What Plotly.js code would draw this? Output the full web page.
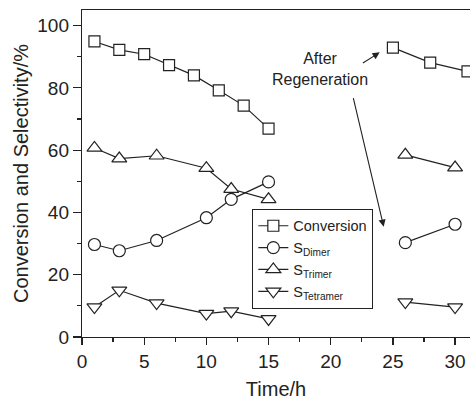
<!DOCTYPE html>
<html>
<head>
<meta charset="utf-8">
<script src="https://cdn.plot.ly/plotly-3.0.1.min.js"></script>
<style>html,body{margin:0;padding:0;background:#fff;}#chart{width:470px;height:400px;}</style>
</head>
<body>
<div id="chart"></div>
<script>
// Time (h); null entries break the line between the two runs
var convX = [1, 3, 5, 7, 9, 11, 13, 15, 20, 25, 28, 31];
var convY = [94.9, 92.2, 90.8, 87.3, 84.0, 79.2, 74.3, 66.9, null, 92.9, 88.1, 85.3];
var selX = [1, 3, 6, 10, 12, 15, 20, 26, 30];
var dimerY = [29.7, 27.7, 31.0, 38.3, 44.2, 49.8, null, 30.3, 36.2];
var trimerY = [60.7, 57.3, 58.2, 54.2, 47.5, 44.2, null, 58.5, 54.4];
var tetramerY = [9.6, 15.0, 10.9, 7.5, 8.3, 5.8, null, 11.2, 9.6];
var seriesNames = ['Conversion', 'S<sub>Dimer</sub>', 'S<sub>Trimer</sub>', 'S<sub>Tetramer</sub>'];
var annotText = 'After<br>Regeneration';

var ink = '#222';
function tr(x, y, name, sym, size) {
  return {
    x: x, y: y, name: name, type: 'scatter', mode: 'lines+markers',
    line: {color: ink, width: 1.2},
    marker: {symbol: sym, size: size, color: '#fff', line: {color: ink, width: 1.2}},
    connectgaps: false, cliponaxis: false
  };
}
var data = [
  tr(convX, convY, seriesNames[0], 'square', 11),
  tr(selX, dimerY, seriesNames[1], 'circle', 12),
  tr(selX, trimerY, seriesNames[2], 'triangle-up', 13),
  tr(selX, tetramerY, seriesNames[3], 'triangle-down', 13)
];

var font = 'Liberation Sans, Arial, sans-serif';
var layout = {
  width: 470, height: 400,
  margin: {l: 82, r: 0, t: 10, b: 63},
  paper_bgcolor: '#fff', plot_bgcolor: '#fff',
  font: {family: font, color: ink},
  showlegend: true,
  legend: {
    x: 0.439, y: 0.392, xanchor: 'left', yanchor: 'top',
    bgcolor: '#fff', bordercolor: ink, borderwidth: 1,
    font: {family: font, size: 14.5, color: ink},
    tracegroupgap: 0, itemwidth: 30
  },
  xaxis: {
    range: [0, 31.2], dtick: 5, tick0: 0,
    showline: true, linecolor: ink, linewidth: 1.2, mirror: true,
    ticks: 'outside', ticklen: 7, tickwidth: 1.2, tickcolor: ink,
    minor: {dtick: 2.5, ticks: 'outside', ticklen: 4, tickwidth: 1.2, tickcolor: ink, showgrid: false},
    showgrid: false, zeroline: false,
    tickfont: {family: font, size: 19, color: ink},
    title: {text: 'Time/h', font: {family: font, size: 20, color: ink}, standoff: 21}
  },
  yaxis: {
    range: [0, 105], dtick: 20, tick0: 0,
    showline: true, linecolor: ink, linewidth: 1.2, mirror: false,
    ticks: 'outside', ticklen: 8, tickwidth: 1.2, tickcolor: ink,
    minor: {dtick: 10, ticks: 'outside', ticklen: 4, tickwidth: 1.2, tickcolor: ink, showgrid: false},
    showgrid: false, zeroline: false,
    tickfont: {family: font, size: 19, color: ink},
    title: {text: 'Conversion and Selectivity/%', font: {family: font, size: 20, color: ink}, standoff: 3}
  },
  annotations: [
    {x: 19.1, y: 86.1, xref: 'x', yref: 'y', text: annotText, showarrow: false,
     font: {family: font, size: 16, color: ink}, align: 'center'},
    {x: 23.94, y: 91.4, ax: 22.47, ay: 87.7, xref: 'x', yref: 'y', axref: 'x', ayref: 'y',
     text: '', showarrow: true, arrowhead: 2, arrowsize: 1.3, arrowwidth: 1.1, arrowcolor: ink, standoff: 0, startstandoff: 0},
    {x: 24.26, y: 35.4, ax: 21.79, ay: 77.2, xref: 'x', yref: 'y', axref: 'x', ayref: 'y',
     text: '', showarrow: true, arrowhead: 2, arrowsize: 1.3, arrowwidth: 1.1, arrowcolor: ink, standoff: 0, startstandoff: 0}
  ]
};
Plotly.newPlot('chart', data, layout, {displayModeBar: false, staticPlot: true});
</script>
</body>
</html>
